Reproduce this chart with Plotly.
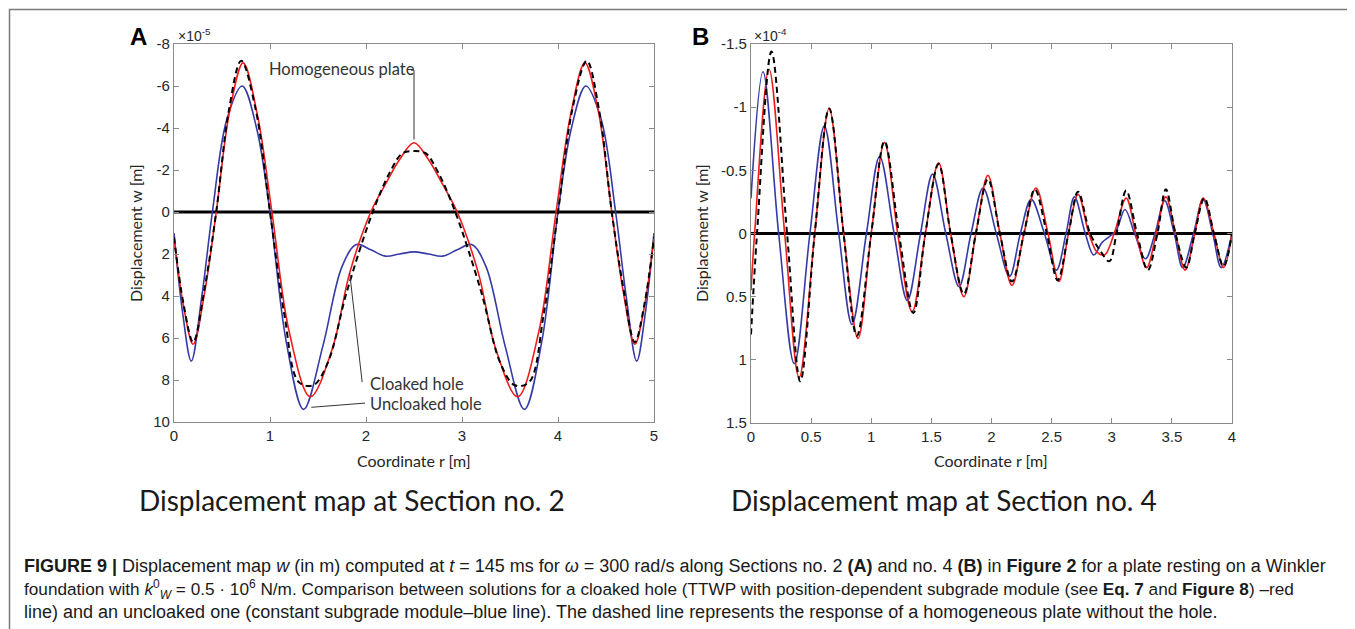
import plotly.graph_objects as go

W, H = 1355, 629
OFF = 8  # page body margin in the browser

# ---------------- Panel A data (x 1e-5 m) ----------------
rA_red = [0, 0.1, 0.2, 0.32, 0.44, 0.58, 0.72, 0.87, 1.02, 1.2, 1.42, 1.65, 1.83, 2.05, 2.2, 2.35, 2.5,
          2.65, 2.8, 2.95, 3.17, 3.35, 3.58, 3.8, 3.98, 4.13, 4.28, 4.42, 4.56, 4.68, 4.8, 4.9, 5.0]
wA_red = [1.2, 4.5, 6.3, 3.8, 0, -4.8, -7.1, -4.6, 0, 5.7, 8.8, 6.5, 2.9, 0, -1.3, -2.5, -3.3,
          -2.5, -1.3, 0, 2.9, 6.5, 8.8, 5.7, 0, -4.6, -7.1, -4.8, 0, 3.8, 6.3, 4.5, 1.2]

rA_hom = [0, 0.1, 0.2, 0.32, 0.44, 0.57, 0.7, 0.85, 1.0, 1.15, 1.3, 1.45, 1.6, 1.8, 2.07, 2.25, 2.38, 2.5,
          2.62, 2.75, 2.93, 3.2, 3.4, 3.55, 3.7, 3.85, 4.0, 4.15, 4.3, 4.43, 4.56, 4.68, 4.8, 4.9, 5.0]
wA_hom = [1.2, 4.4, 6.2, 3.6, 0, -4.8, -7.2, -4.9, 0, 4.9, 8.1, 8.25, 7.2, 3.8, 0, -1.9, -2.8, -2.9,
          -2.8, -1.9, 0, 3.8, 7.2, 8.25, 8.1, 4.9, 0, -4.9, -7.2, -4.8, 0, 3.6, 6.2, 4.4, 1.2]

rA_unc = [0, 0.09, 0.18, 0.29, 0.40, 0.55, 0.71, 0.86, 1.0, 1.17, 1.35, 1.55, 1.75, 1.9, 2.05, 2.2, 2.35, 2.5,
          2.65, 2.8, 2.95, 3.1, 3.25, 3.45, 3.65, 3.83, 4.0, 4.14, 4.29, 4.45, 4.6, 4.71, 4.82, 4.91, 5.0]
wA_unc = [1.0, 4.8, 7.1, 4.0, 0, -4.4, -6.0, -4.0, 0, 6.2, 9.4, 6.4, 2.6, 1.55, 1.8, 2.1, 2.0, 1.9,
          2.0, 2.1, 1.8, 1.55, 2.6, 6.4, 9.4, 6.2, 0, -4.0, -6.0, -4.4, 0, 4.0, 7.1, 4.8, 1.0]

# ---------------- Panel B data (x 1e-4 m) ----------------
rB_red = [0, 0.03, 0.15, 0.28, 0.40, 0.53, 0.65, 0.77, 0.89, 1.0, 1.11, 1.22, 1.34, 1.45, 1.56, 1.66,
          1.77, 1.87, 1.97, 2.07, 2.17, 2.27, 2.37, 2.47, 2.56, 2.64, 2.72, 2.81, 2.88, 2.94, 3.02,
          3.12, 3.2, 3.29, 3.37, 3.45, 3.53, 3.61, 3.69, 3.76, 3.85, 3.93, 4.0]
wB_red = [0.45, 0, -1.30, 0, 1.14, 0, -0.99, 0, 0.83, 0, -0.72, 0, 0.62, 0, -0.56, 0,
          0.50, 0, -0.46, 0, 0.41, 0, -0.36, 0, 0.38, 0, -0.31, 0, 0.15, 0.17, 0,
          -0.28, 0, 0.27, 0, -0.29, 0, 0.29, 0, -0.28, 0, 0.27, 0]

rB_hom = [0, 0.05, 0.17, 0.30, 0.41, 0.53, 0.65, 0.77, 0.88, 1.0, 1.11, 1.23, 1.35, 1.45, 1.56, 1.66,
          1.77, 1.87, 1.97, 2.07, 2.17, 2.27, 2.36, 2.46, 2.55, 2.64, 2.72, 2.82, 2.9, 2.98, 3.04,
          3.12, 3.21, 3.30, 3.38, 3.45, 3.53, 3.62, 3.69, 3.77, 3.85, 3.93, 4.0]
wB_hom = [0.8, 0, -1.44, 0, 1.17, 0, -0.99, 0, 0.81, 0, -0.73, 0, 0.63, 0, -0.55, 0,
          0.48, 0, -0.43, 0, 0.38, 0, -0.35, 0, 0.37, 0, -0.33, 0, 0.13, 0.22, 0,
          -0.34, 0, 0.29, 0, -0.35, 0, 0.27, 0, -0.28, 0, 0.26, 0]

rB_unc = [0, 0.10, 0.23, 0.36, 0.49, 0.61, 0.73, 0.84, 0.96, 1.07, 1.19, 1.30, 1.41, 1.51, 1.62,
          1.73, 1.83, 1.93, 2.04, 2.15, 2.24, 2.33, 2.44, 2.54, 2.62, 2.69, 2.78, 2.85, 2.92, 2.98,
          3.04, 3.11, 3.19, 3.28, 3.36, 3.44, 3.52, 3.59, 3.68, 3.76, 3.84, 3.91, 4.0]
wB_unc = [-0.28, -1.28, 0, 1.03, 0, -0.85, 0, 0.72, 0, -0.61, 0, 0.53, 0, -0.47, 0,
          0.42, 0, -0.36, 0, 0.34, 0, -0.27, 0, 0.29, 0, -0.29, 0, 0.17, 0.07, 0.025,
          -0.03, -0.19, 0, 0.20, 0, -0.26, 0, 0.27, 0, -0.27, 0, 0.27, 0]

# axes ticks
xA_ticks = [0, 1, 2, 3, 4, 5]
yA_ticks = [-8, -6, -4, -2, 0, 2, 4, 6, 8, 10]
yA_labels = ["-8", "-6", "-4", "-2", "0", "2", "4", "6", "8", "10"]
xB_ticks = [0, 0.5, 1, 1.5, 2, 2.5, 3, 3.5, 4]
xB_labels = ["0", "0.5", "1", "1.5", "2", "2.5", "3", "3.5", "4"]
yB_ticks = [-1.5, -1, -0.5, 0, 0.5, 1, 1.5]
yB_labels = ["-1.5", "-1", "-0.5", "0", "0.5", "1", "1.5"]

# annotation leader lines (data coords of panel A)
lead_hom_r = [2.47, 2.5, 2.5]
lead_hom_w = [-6.75, -6.75, -3.45]
lead_clo_r = [1.96, 1.83]
lead_clo_w = [8.1, 2.9]
lead_unc_r = [1.99, 1.43]
lead_unc_w = [9.1, 9.3]

RED = "#ee1c1c"
BLUE = "#363aa6"
TXT = "#262626"
AXC = "#8a8a8a"


def px(x):
    return (x - OFF) / W


def py(y):
    return 1 - (y - OFF) / H


fig = go.Figure()


def add_curve(r, w, color, xa, ya, dash="solid", width=1.6):
    fig.add_trace(go.Scatter(x=r, y=w, mode="lines", xaxis=xa, yaxis=ya,
                             line=dict(color=color, width=width, dash=dash, shape="spline", smoothing=1.0),
                             hoverinfo="skip", showlegend=False))


# zero lines
fig.add_trace(go.Scatter(x=[xA_ticks[0], xA_ticks[-1]], y=[0, 0], mode="lines", xaxis="x", yaxis="y",
                         line=dict(color="black", width=3), showlegend=False, hoverinfo="skip"))
fig.add_trace(go.Scatter(x=[xB_ticks[0], xB_ticks[-1]], y=[0, 0], mode="lines", xaxis="x2", yaxis="y2",
                         line=dict(color="black", width=3), showlegend=False, hoverinfo="skip"))

add_curve(rA_unc, wA_unc, BLUE, "x", "y")
add_curve(rA_red, wA_red, RED, "x", "y")
add_curve(rA_hom, wA_hom, "black", "x", "y", dash="6px,4px", width=2)
add_curve(rB_unc, wB_unc, BLUE, "x2", "y2")
add_curve(rB_red, wB_red, RED, "x2", "y2")
add_curve(rB_hom, wB_hom, "black", "x2", "y2", dash="6px,4px", width=2)

for lr, lw in [(lead_hom_r, lead_hom_w), (lead_clo_r, lead_clo_w), (lead_unc_r, lead_unc_w)]:
    fig.add_trace(go.Scatter(x=lr, y=lw, mode="lines", xaxis="x", yaxis="y",
                             line=dict(color="#333333", width=1), showlegend=False, hoverinfo="skip"))

axis_common = dict(showline=True, linecolor=AXC, linewidth=1.3, mirror="ticks", ticks="inside",
                   ticklen=5, tickcolor=AXC, tickwidth=1, showgrid=False, zeroline=False,
                   automargin=False,
                   tickfont=dict(family="Liberation Sans, Arial", size=15, color=TXT))

fig.update_layout(
    width=W, height=H, margin=dict(l=0, r=0, t=0, b=0, pad=0, autoexpand=False),
    autosize=False,
    paper_bgcolor="white", plot_bgcolor="white",
    xaxis=dict(domain=[px(174), px(654)], anchor="y", range=[0, 5], tickvals=xA_ticks,
               ticktext=[str(v) for v in xA_ticks], **axis_common),
    yaxis=dict(domain=[py(422), py(44)], anchor="x", range=[10, -8], tickvals=yA_ticks,
               ticktext=yA_labels, **axis_common),
    xaxis2=dict(domain=[px(751), px(1232)], anchor="y2", range=[0, 4], tickvals=xB_ticks,
                ticktext=xB_labels, **axis_common),
    yaxis2=dict(domain=[py(423), py(44)], anchor="x2", range=[1.5, -1.5], tickvals=yB_ticks,
                ticktext=yB_labels, **axis_common),
)

ann = []


def text(x, y, s, size, family="Lato", color=TXT, xanchor="center", yanchor="middle", angle=0):
    ann.append(dict(x=px(x), y=py(y), xref="paper", yref="paper", text=s, showarrow=False,
                    font=dict(family=family, size=size, color=color), xanchor=xanchor,
                    yanchor=yanchor, textangle=angle))


SANS = "Liberation Sans, Arial"
# panel letters & exponents
text(138, 37, "<b>A</b>", 24, SANS, "black")
text(700, 37, "<b>B</b>", 24, SANS, "black")
text(176, 35, "×10<sup>-5</sup>", 14, SANS, TXT, xanchor="left")
text(752, 35, "×10<sup>-4</sup>", 14, SANS, TXT, xanchor="left")

# axis titles
text(135, 233, "Displacement w [m]", 16, "Lato", TXT, angle=-90)
text(701, 233, "Displacement w [m]", 16, "Lato", TXT, angle=-90)
text(414, 460, "Coordinate r [m]", 16, "Lato", TXT)
text(991, 460, "Coordinate r [m]", 16, "Lato", TXT)

# curve labels
text(267, 69, "Homogeneous plate", 16.5, "Lato", "#333333", xanchor="left")
text(368, 384, "Cloaked hole", 16.5, "Lato", "#333333", xanchor="left")
text(368, 404, "Uncloaked hole", 16.5, "Lato", "#333333", xanchor="left")

# panel subtitles
text(352, 500, "Displacement map at Section no. 2", 28, "Lato", "#1a1a1a")
text(944, 500, "Displacement map at Section no. 4", 28, "Lato", "#1a1a1a")

# caption
CAP = "Liberation Sans Narrow, Arial Narrow, Liberation Sans"
cap1 = ("<b>FIGURE 9 |</b> Displacement map <i>w</i> (in m) computed at <i>t</i> = 145 ms for <i>ω</i> = 300 rad/s "
        "along Sections no. 2 <b>(A)</b> and no. 4 <b>(B)</b> in <b>Figure 2</b> for a plate resting on a Winkler")
cap2 = ("foundation with <i>k</i><sup>0</sup><sub><i>W</i></sub> = 0.5 · 10<sup>6</sup> N/m. Comparison between "
        "solutions for a cloaked hole (TTWP with position-dependent subgrade module (see <b>Eq. 7</b> and "
        "<b>Figure 8</b>) –red")
cap3 = ("line) and an uncloaked one (constant subgrade module–blue line). The dashed line represents the "
        "response of a homogeneous plate without the hole.")
text(22, 566, cap1, 18, CAP, "#1a1a1a", xanchor="left")
text(22, 589, cap2, 17.2, CAP, "#1a1a1a", xanchor="left")
text(22, 612, cap3, 18, CAP, "#1a1a1a", xanchor="left")

fig.update_layout(annotations=ann)

# outer frame
fig.add_shape(type="rect", xref="paper", yref="paper", x0=px(9.5), x1=px(1353.5), y0=-0.05, y1=py(9.5),
              line=dict(color="#7a7a7a", width=1.5), fillcolor="rgba(0,0,0,0)", layer="below")

fig.write_html("out.html")
